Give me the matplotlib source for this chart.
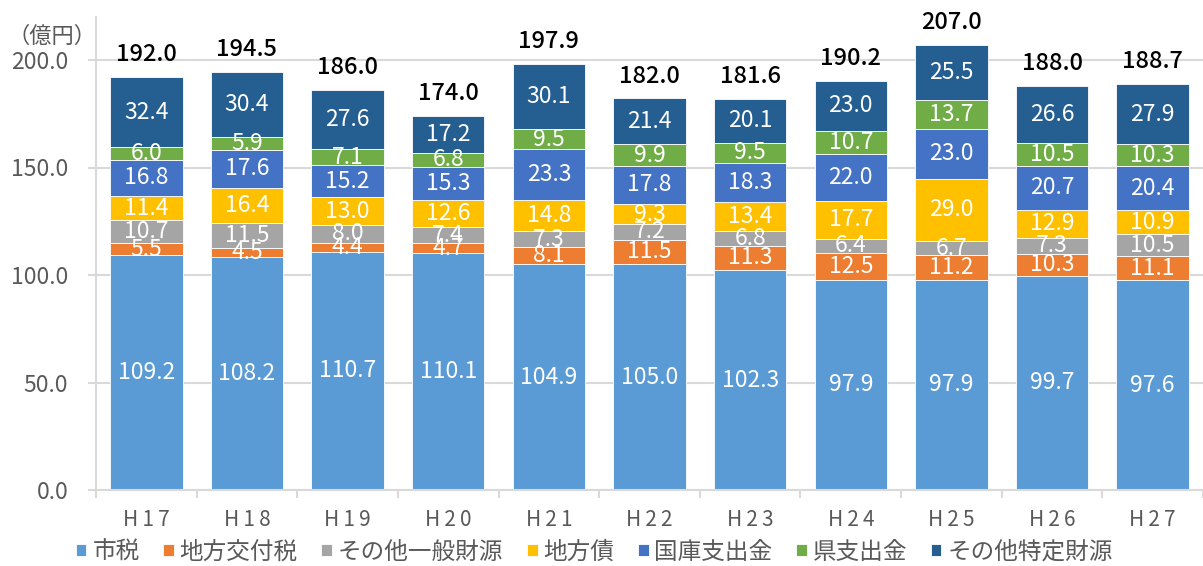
import numpy as np
import matplotlib.pyplot as plt

plt.rcParams['font.family'] = ['Noto Sans CJK JP', 'DejaVu Sans']

# Data (億円)
years = ['H17', 'H18', 'H19', 'H20', 'H21', 'H22', 'H23', 'H24', 'H25', 'H26', 'H27']
shizei = [109.2, 108.2, 110.7, 110.1, 104.9, 105.0, 102.3, 97.9, 97.9, 99.7, 97.6]
koufuzei = [5.5, 4.5, 4.4, 4.7, 8.1, 11.5, 11.3, 12.5, 11.2, 10.3, 11.1]
sonota_ippan = [10.7, 11.5, 8.0, 7.4, 7.3, 7.2, 6.8, 6.4, 6.7, 7.3, 10.5]
chihousai = [11.4, 16.4, 13.0, 12.6, 14.8, 9.3, 13.4, 17.7, 29.0, 12.9, 10.9]
kokko = [16.8, 17.6, 15.2, 15.3, 23.3, 17.8, 18.3, 22.0, 23.0, 20.7, 20.4]
ken = [6.0, 5.9, 7.1, 6.8, 9.5, 9.9, 9.5, 10.7, 13.7, 10.5, 10.3]
sonota_tokutei = [32.4, 30.4, 27.6, 17.2, 30.1, 21.4, 20.1, 23.0, 25.5, 26.6, 27.9]
totals = [192.0, 194.5, 186.0, 174.0, 197.9, 182.0, 181.6, 190.2, 207.0, 188.0, 188.7]

series = [
    ('市税', shizei, '#5B9BD5'),
    ('地方交付税', koufuzei, '#ED7D31'),
    ('その他一般財源', sonota_ippan, '#A5A5A5'),
    ('地方債', chihousai, '#FFC000'),
    ('国庫支出金', kokko, '#4472C4'),
    ('県支出金', ken, '#70AD47'),
    ('その他特定財源', sonota_tokutei, '#255E91'),
]

fig = plt.figure(figsize=(12.03, 5.66), dpi=100)
ax = fig.add_axes([96 / 1203, 1 - 490 / 566, 1 - 96 / 1203, (490 - 17) / 566])

x = np.arange(len(years))
bottom = np.zeros(len(years))
grid_col = '#D9D9D9'
text_col = '#595959'

for name, vals, col in series:
    vals = np.array(vals)
    ax.bar(x, vals, 0.72, bottom=bottom, color=col, label=name,
           edgecolor='white', linewidth=0.6, zorder=2)
    for xi, b, v in zip(x, bottom, vals):
        ax.text(xi, b + v / 2, f'{v:.1f}', ha='center', va='center',
                color='white', fontsize=16.5, zorder=3)
    bottom += vals

# totals above bars
for xi, t in zip(x, totals):
    ax.annotate(f'{t:.1f}', (xi, t), xytext=(0, 8), textcoords='offset points',
                ha='center', va='bottom', fontsize=17, color='black',
                fontweight='medium')

ax.set_xlim(-0.5, len(years) - 0.5)
ax.set_ylim(0, 220)
yt = np.arange(0, 201, 50)
ax.set_yticks(yt)
ax.set_yticklabels([f'{v:.1f}' for v in yt])
ax.set_xticks(x)
ax.set_xticklabels(['\u2009'.join(y) for y in years])
ax.set_xticks(np.arange(-0.5, len(years), 1), minor=True)

ax.tick_params(axis='x', which='major', length=0, pad=14, labelsize=15, labelcolor=text_col)
ax.tick_params(axis='x', which='minor', length=6, color=grid_col, width=1.5)
ax.tick_params(axis='y', length=6, color=grid_col, width=1.5, labelsize=16.5,
               labelcolor=text_col, pad=14)

ax.yaxis.grid(True, color=grid_col, linewidth=1.5, zorder=0)
ax.set_axisbelow(True)
for s in ['top', 'right']:
    ax.spines[s].set_visible(False)
for s in ['left', 'bottom']:
    ax.spines[s].set_color(grid_col)
    ax.spines[s].set_linewidth(1.5)

fig.text(0.006, 1 - 36 / 566, '（億円）', ha='left', va='center',
         fontsize=16, color=text_col)

fig.legend(loc='center', bbox_to_anchor=(0.494, 1 - 552 / 566), ncol=7,
           frameon=False, fontsize=17, handlelength=0.45, handleheight=0.45,
           handletextpad=0.25, columnspacing=1.0, labelcolor=text_col)

plt.savefig('out.png', dpi=100)
plt.close()
